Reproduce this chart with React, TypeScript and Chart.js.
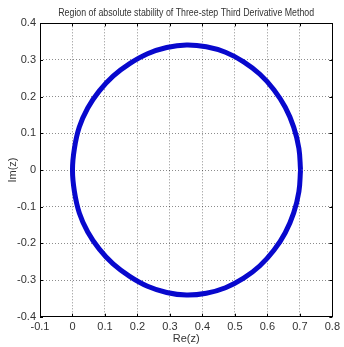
import React, { useEffect, useRef } from "react";
import { Chart, registerables } from "chart.js";

Chart.register(...registerables);

const titleText = "Region of absolute stability of Three-step Third Derivative Method";
const xLabel = "Re(z)";
const yLabel = "Im(z)";

// Boundary of the stability region (counter-clockwise from the right end)
const reZ = [
  0.702, 0.697, 0.681, 0.655, 0.620, 0.577, 0.527, 0.471, 0.412, 0.351, 0.290, 0.231, 0.176,
  0.125, 0.082, 0.047, 0.021, 0.006, 0.000, 0.006, 0.021, 0.047, 0.082, 0.125, 0.176, 0.231,
  0.290, 0.351, 0.412, 0.471, 0.527, 0.577, 0.620, 0.655, 0.681, 0.697, 0.702,
];
const imZ = [
  0.000, 0.059, 0.117, 0.171, 0.219, 0.261, 0.295, 0.321, 0.336, 0.341, 0.334, 0.317, 0.290,
  0.256, 0.215, 0.169, 0.117, 0.059, 0.000, -0.059, -0.117, -0.169, -0.215, -0.256, -0.290, -0.317,
  -0.334, -0.341, -0.336, -0.321, -0.295, -0.261, -0.219, -0.171, -0.117, -0.059, 0.000,
];

const xMin = -0.1, xMax = 0.8, xStep = 0.1;
const yMin = -0.4, yMax = 0.4, yStep = 0.1;

const FONT = '"Liberation Sans", Arial, sans-serif';

const boxPlugin = {
  id: "matlabBox",
  afterDatasetsDraw(chart: any) {
    const { ctx, chartArea: a, scales } = chart;
    ctx.save();
    ctx.strokeStyle = "#000";
    ctx.lineWidth = 1;
    ctx.setLineDash([]);
    ctx.strokeRect(Math.round(a.left) + 0.5, Math.round(a.top) + 0.5, Math.round(a.right - a.left), Math.round(a.bottom - a.top));
    const tl = 3;
    ctx.beginPath();
    scales.x.ticks.forEach((t: any) => {
      const px = Math.round(scales.x.getPixelForValue(t.value)) + 0.5;
      ctx.moveTo(px, a.bottom);
      ctx.lineTo(px, a.bottom - tl);
      ctx.moveTo(px, a.top);
      ctx.lineTo(px, a.top + tl);
    });
    scales.y.ticks.forEach((t: any) => {
      const py = Math.round(scales.y.getPixelForValue(t.value)) + 0.5;
      ctx.moveTo(a.left, py);
      ctx.lineTo(a.left + tl, py);
      ctx.moveTo(a.right, py);
      ctx.lineTo(a.right - tl, py);
    });
    ctx.stroke();
    // condensed title, like the original's narrow font
    const cx = (a.left + a.right) / 2;
    ctx.translate(cx, 13);
    ctx.scale(0.8, 1);
    ctx.font = `11px ${FONT}`;
    ctx.fillStyle = "#333";
    ctx.textAlign = "center";
    ctx.textBaseline = "middle";
    ctx.fillText(titleText, 0, 0);
    ctx.restore();
  },
};

export default function App() {
  const ref = useRef<HTMLCanvasElement>(null);
  useEffect(() => {
    if (!ref.current) return;
    const points = reZ.map((x, i) => ({ x, y: imZ[i] }));
    const chart = new Chart(ref.current, {
      type: "scatter",
      data: {
        datasets: [
          {
            data: points,
            showLine: true,
            borderColor: "rgb(8,8,205)",
            borderWidth: 5,
            pointRadius: 0,
            tension: 0.4,
            fill: false,
          },
        ],
      },
      options: {
        animation: false,
        responsive: false,
        maintainAspectRatio: false,
        layout: { padding: { left: 0, right: 4, top: 23.3, bottom: 0 } },
        plugins: {
          legend: { display: false },
          tooltip: { enabled: false },
          title: { display: false },
        },
        scales: {
          x: {
            type: "linear",
            min: xMin,
            max: xMax,
            afterFit: (s: any) => { s.height = 30.3; },
            ticks: {
              stepSize: xStep,
              color: "#333",
              padding: 4,
              font: { family: FONT, size: 11 },
              maxRotation: 0,
              autoSkip: false,
            },
            grid: { color: "rgba(0,0,0,0.45)", drawTicks: false, lineWidth: 1 } as any,
            border: { display: false, dash: [1, 2] } as any,
            title: {
              display: true,
              text: xLabel,
              color: "#333",
              font: { family: FONT, size: 11, lineHeight: 1.2 },
              padding: { top: 0, bottom: 1 },
            },
          },
          y: {
            type: "linear",
            min: yMin,
            max: yMax,
            afterFit: (s: any) => { s.width = 40; },
            ticks: {
              stepSize: yStep,
              color: "#333",
              padding: 4,
              font: { family: FONT, size: 11 },
              autoSkip: false,
            },
            grid: { color: "rgba(0,0,0,0.45)", drawTicks: false, lineWidth: 1 } as any,
            border: { display: false, dash: [1, 2] } as any,
            title: {
              display: true,
              text: yLabel,
              color: "#333",
              font: { family: FONT, size: 11, lineHeight: 1.2 },
              padding: { top: 6, bottom: 0 },
            },
          },
        },
      },
      plugins: [boxPlugin],
    });
    return () => chart.destroy();
  }, []);
  return (
    <div style={{ position: "fixed", left: 0, top: 0, width: 344, height: 347, background: "#fff" }}>
      <canvas ref={ref} width={344} height={347} style={{ width: 344, height: 347, display: "block" }} />
    </div>
  );
}
